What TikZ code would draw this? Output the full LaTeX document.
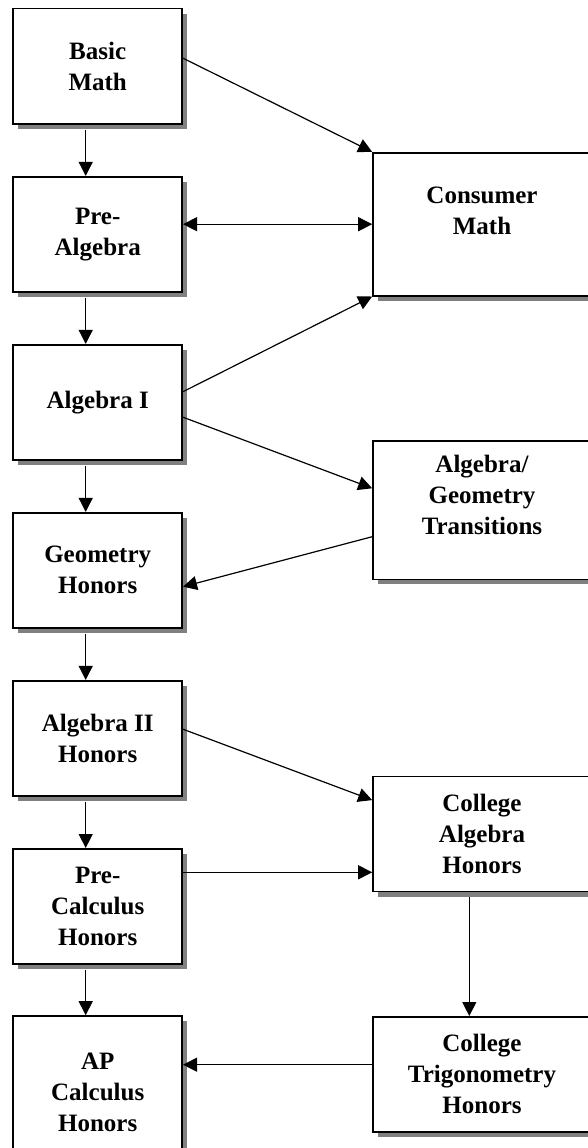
\documentclass[tikz,border=0pt]{standalone}
\usepackage{fontspec}
\setmainfont{Liberation Serif}
\usepackage{tikz}
\usetikzlibrary{arrows.meta,shadows}
\definecolor{shadow_gray}{RGB}{128,128,128}

\begin{document}
\begin{tikzpicture}[->,line width=1.2pt,>={Triangle[length=14pt,width=14pt]},x=1pt,y=-1pt]
    \tikzstyle{course}=[draw=black, line width=1.6pt, rectangle, fill=white, inner sep=0pt, align=center,
      minimum width=169pt, minimum height=115pt, text=black, font=\bfseries\fontsize{25}{31}\selectfont,
      drop shadow={shadow xshift=5pt, shadow yshift=-5pt, fill=shadow_gray, opacity=1}]
    \tikzstyle{wide}=[minimum width=218pt]

    \useasboundingbox (0,0) rectangle (587,1148);

    \node[course] (basic)   at (97.7,66.2)   {Basic\\Math};
    \node[course] (prealg)  at (97.7,234.2)  {Pre-\\Algebra};
    \node[course] (alg1)    at (97.7,402.2)  {Algebra I};
    \node[course] (geom)    at (97.7,570.2)  {Geometry\\Honors};
    \node[course] (alg2)    at (97.7,738.2)  {Algebra II\\Honors};
    \node[course] (precalc) at (97.7,906.3)  {Pre-\\Calculus\\Honors};
    \node[course, minimum height=152pt] (apcalc) at (97.7,1092) {AP\\Calculus\\Honors};

    \node[course, wide, minimum height=143pt, text depth=27pt] (consumer) at (482,224.2) {Consumer\\Math};
    \node[course, wide, minimum height=138.6pt, text depth=30pt] (trans) at (482,510) {Algebra/\\Geometry\\Transitions};
    \node[course, wide] (colalg)  at (482,834.1)  {College\\Algebra\\Honors};
    \node[course, wide] (coltrig) at (482,1074.3) {College\\Trigonometry\\Honors};

    \path
     ([xshift=-12pt]basic.south)   edge[shorten <=5pt] ([xshift=-12pt]prealg.north)
     ([xshift=-12pt]prealg.south)  edge[shorten <=5pt] ([xshift=-12pt]alg1.north)
     ([xshift=-12pt]alg1.south)    edge[shorten <=5pt] ([xshift=-12pt]geom.north)
     ([xshift=-12pt]geom.south)    edge[shorten <=5pt] ([xshift=-12pt]alg2.north)
     ([xshift=-12pt]alg2.south)    edge[shorten <=5pt] ([xshift=-12pt]precalc.north)
     ([xshift=-12pt]precalc.south) edge[shorten <=5pt] ([xshift=-12pt]apcalc.north)
     ([yshift=8pt]basic.east)      edge (consumer.north west)
     ([yshift=10pt]prealg.east)    edge[<->] ([yshift=10pt]prealg.east -| consumer.west)
     ([yshift=10.5pt]alg1.east)    edge (consumer.south west)
     ([yshift=-15pt]alg1.east)     edge ([yshift=21.7pt]trans.west)
     ([yshift=-26.7pt]trans.west)  edge ([yshift=-16.5pt]geom.east)
     ([yshift=9pt]alg2.east)       edge ([yshift=34pt]colalg.west)
     ([yshift=34pt]precalc.east)   edge ([yshift=34pt]precalc.east -| colalg.west)
     ([xshift=-12.7pt]colalg.south) edge[shorten <=5pt] ([xshift=-12.7pt]coltrig.north)
     ([yshift=9.6pt]coltrig.west)  edge ([yshift=9.6pt]coltrig.west -| apcalc.east)
     ;
  \end{tikzpicture}
\end{document}
